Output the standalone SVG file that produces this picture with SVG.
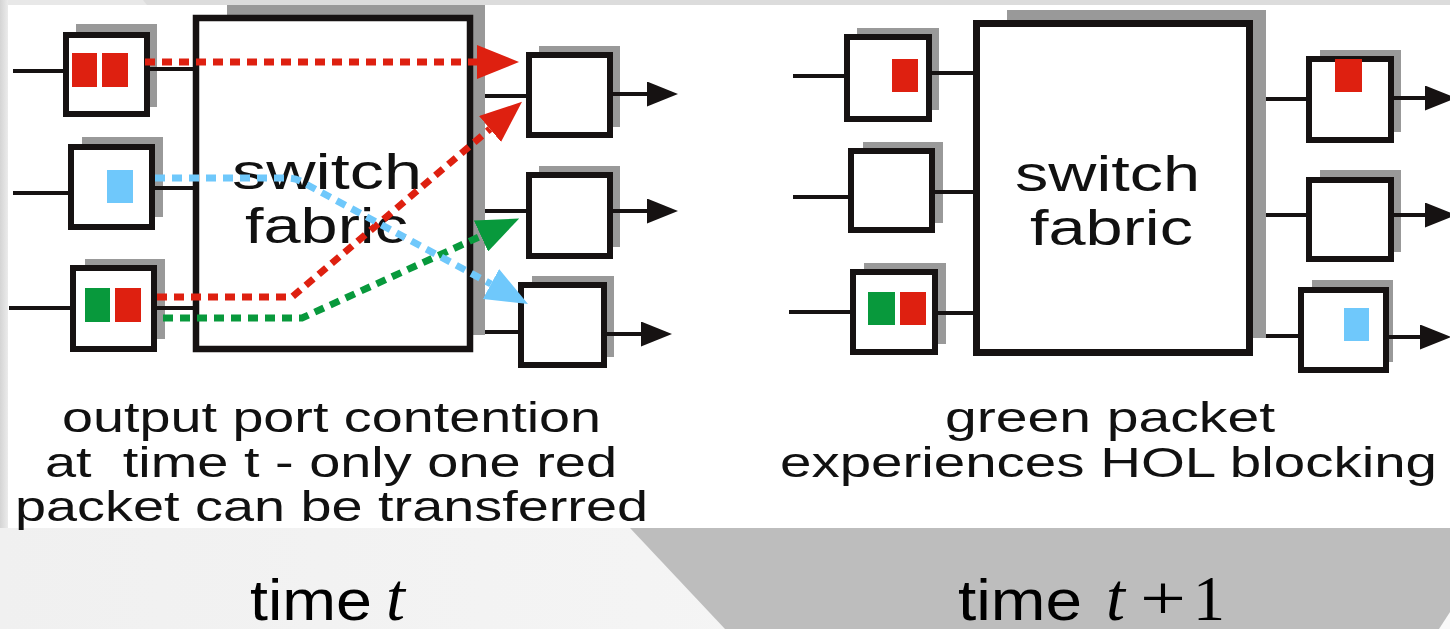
<svg xmlns="http://www.w3.org/2000/svg" width="1450" height="629" viewBox="0 0 1450 629">
<defs>
<linearGradient id="leftg" x1="0" x2="1" y1="0" y2="0"><stop offset="0" stop-color="#d4d4d4"/><stop offset="1" stop-color="#ebebeb"/></linearGradient>
<linearGradient id="botg" x1="0" x2="1" y1="0" y2="0"><stop offset="0" stop-color="#f0f0f0"/><stop offset="1" stop-color="#f9f9f9"/></linearGradient>
<marker id="arRed" markerUnits="userSpaceOnUse" viewBox="0 0 42 34" refX="0" refY="17" markerWidth="42" markerHeight="34" orient="auto"><path d="M0,0 L42,17 L0,34 z" fill="#de2010"/></marker>
<marker id="arGreen" markerUnits="userSpaceOnUse" viewBox="0 0 42 34" refX="0" refY="17" markerWidth="42" markerHeight="34" orient="auto"><path d="M0,0 L42,17 L0,34 z" fill="#08993c"/></marker>
<marker id="arBlue" markerUnits="userSpaceOnUse" viewBox="0 0 42 34" refX="0" refY="17" markerWidth="42" markerHeight="34" orient="auto"><path d="M0,0 L42,17 L0,34 z" fill="#6fc8fb"/></marker>
<marker id="arBlack" markerUnits="userSpaceOnUse" viewBox="0 0 31 25" refX="0" refY="12.5" markerWidth="31" markerHeight="25" orient="auto"><path d="M0,0 L31,12.5 L0,25 z" fill="#161212"/></marker>
</defs>
<style>
.box{fill:#fff;stroke:#161212;stroke-width:6}
.fab{fill:#fff;stroke:#161212;stroke-width:6.5}
.shadow{fill:#999999}
.wire{stroke:#161212;stroke-width:4;fill:none}
.out{stroke:#161212;stroke-width:4;fill:none;marker-end:url(#arBlack)}
.dash{fill:none;stroke-width:7;stroke-dasharray:10 7}
.red{fill:#de2010}
.green{fill:#08993c}
.blue{fill:#6fc8fb}
.lbl{font-family:"Liberation Sans",Arial,sans-serif;fill:#111}
.sans{font-family:"Liberation Sans",Arial,sans-serif;fill:#000}
.math{font-family:"Liberation Serif","Times New Roman",serif;fill:#000}
</style>

<!-- background -->
<rect x="0" y="0" width="1450" height="629" fill="url(#botg)"/>
<rect x="0" y="0" width="1450" height="5" fill="#dcdcdc"/>
<polygon points="0,0 143,0 147,5 0,5" fill="#e8e8e8"/>
<rect x="0" y="0" width="8" height="528" fill="url(#leftg)"/>
<rect x="8" y="5" width="1442" height="523" fill="#ffffff"/>
<polygon points="630,528 1450,528 1450,612 1439,629 725,629" fill="#bdbdbd"/>

<!-- LEFT: time t -->
<g id="left-fabric">
<rect class="shadow" x="227" y="5" width="258" height="330"/>
<rect class="fab" x="196" y="18" width="274" height="331"/>
<text class="lbl" x="232" y="189" font-size="50" textLength="190" lengthAdjust="spacingAndGlyphs">switch</text>
<text class="lbl" x="245" y="243" font-size="50" textLength="163" lengthAdjust="spacingAndGlyphs">fabric</text>
</g>
<g id="left-in1">
<rect class="shadow" x="76" y="24" width="81" height="83"/>
<rect class="box" x="66" y="35" width="81" height="79"/>
<rect class="red" x="72" y="53" width="25" height="34"/>
<rect class="red" x="102" y="53" width="26" height="34"/>
</g>
<g id="left-in2">
<rect class="shadow" x="82" y="137" width="81" height="80"/>
<rect class="box" x="71" y="147" width="81" height="80"/>
<rect class="blue" x="107" y="170" width="26" height="33"/>
</g>
<g id="left-in3">
<rect class="shadow" x="85" y="259" width="80" height="80"/>
<rect class="box" x="73" y="268" width="81" height="81"/>
<rect class="green" x="85" y="288" width="25" height="34"/>
<rect class="red" x="115" y="288" width="26" height="34"/>
</g>
<g id="left-out1">
<rect class="shadow" x="539" y="46" width="81" height="81"/>
<rect class="box" x="529" y="55" width="81" height="80"/>
</g>
<g id="left-out2">
<rect class="shadow" x="539" y="166" width="81" height="81"/>
<rect class="box" x="529" y="175" width="81" height="81"/>
</g>
<g id="left-out3">
<rect class="shadow" x="532" y="276" width="82" height="81"/>
<rect class="box" x="521" y="285" width="83" height="80"/>
</g>

<!-- RIGHT: time t+1 -->
<g id="right-fabric">
<rect class="shadow" x="1007" y="10" width="259" height="328"/>
<rect class="fab" x="976.5" y="23.5" width="273" height="329" style="stroke-width:7"/>
<text class="lbl" x="1015" y="191" font-size="50" textLength="185" lengthAdjust="spacingAndGlyphs">switch</text>
<text class="lbl" x="1030" y="245" font-size="50" textLength="163" lengthAdjust="spacingAndGlyphs">fabric</text>
</g>
<g id="right-in1">
<rect class="shadow" x="857" y="28" width="82" height="82"/>
<rect class="box" x="847" y="37" width="82" height="82"/>
<rect class="red" x="892" y="59" width="26" height="33"/>
</g>
<g id="right-in2">
<rect class="shadow" x="863" y="142" width="80" height="81"/>
<rect class="box" x="851" y="151" width="81" height="79"/>
</g>
<g id="right-in3">
<rect class="shadow" x="864" y="263" width="82" height="81"/>
<rect class="box" x="853" y="272" width="82" height="80"/>
<rect class="green" x="868" y="292" width="27" height="33"/>
<rect class="red" x="900" y="292" width="26" height="33"/>
</g>
<g id="right-out1">
<rect class="shadow" x="1320" y="50" width="81" height="82"/>
<rect class="box" x="1309" y="59" width="82" height="81"/>
<rect class="red" x="1335" y="59" width="27" height="33"/>
</g>
<g id="right-out2">
<rect class="shadow" x="1320" y="170" width="81" height="82"/>
<rect class="box" x="1309" y="180" width="82" height="79"/>
</g>
<g id="right-out3">
<rect class="shadow" x="1312" y="280" width="81" height="82"/>
<rect class="box" x="1301" y="290" width="85" height="80"/>
<rect class="blue" x="1344" y="308" width="25" height="33"/>
</g>

<g id="connectors">
<!-- left wires -->
<path class="wire" d="M13,71 H63 M150,69 H193 M13,193 H68 M155,188 H193 M9,308 H70 M157,308 H193"/>
<path class="wire" d="M485,96 H526 M485,211 H526 M485,332 H518"/>
<path class="out" d="M613,94 H647"/>
<path class="out" d="M613,211 H647"/>
<path class="out" d="M607,334 H641"/>
<!-- left dotted packet paths -->
<path class="dash" stroke="#de2010" d="M145,62 H477" marker-end="url(#arRed)"/>
<path class="dash" stroke="#de2010" d="M157,297 H292 L490,129" marker-end="url(#arRed)"/>
<path class="dash" stroke="#08993c" d="M163,318 H302 L481,236" marker-end="url(#arGreen)"/>
<path class="dash" stroke="#6fc8fb" d="M155,178 H288 Q296,178 304,183 L491,284" marker-end="url(#arBlue)"/>
<!-- right wires -->
<path class="wire" d="M793,76 H844 M932,73 H977 M793,197 H848 M935,192 H977 M789,312 H850 M938,313 H977"/>
<path class="wire" d="M1266,99 H1306 M1266,215 H1306 M1266,336 H1298"/>
<path class="out" d="M1394,98 H1425"/>
<path class="out" d="M1394,215 H1425"/>
<path class="out" d="M1389,337 H1420"/>
</g>

<!-- captions -->
<text class="lbl" x="62" y="432" font-size="42" textLength="539" lengthAdjust="spacingAndGlyphs">output port contention</text>
<text class="lbl" x="45" y="477" font-size="42" textLength="572" lengthAdjust="spacingAndGlyphs" xml:space="preserve">at  time t - only one red</text>
<text class="lbl" x="15" y="521" font-size="42" textLength="633" lengthAdjust="spacingAndGlyphs">packet can be transferred</text>
<text class="lbl" x="945" y="432" font-size="42" textLength="330" lengthAdjust="spacingAndGlyphs">green packet</text>
<text class="lbl" x="780" y="477" font-size="42" textLength="657" lengthAdjust="spacingAndGlyphs">experiences HOL blocking</text>

<!-- time labels -->
<text class="sans" x="250" y="620" font-size="58" textLength="122" lengthAdjust="spacingAndGlyphs">time</text>
<text class="math" x="386" y="620" font-size="68" font-style="italic">t</text>
<text class="sans" x="958" y="620" font-size="58" textLength="124" lengthAdjust="spacingAndGlyphs">time</text>
<text class="math" x="1106" y="620" font-size="68" font-style="italic">t</text>
<text class="math" x="1140" y="620" font-size="64" textLength="46" lengthAdjust="spacingAndGlyphs">+</text>
<text class="math" x="1193" y="620" font-size="64">1</text>
</svg>
